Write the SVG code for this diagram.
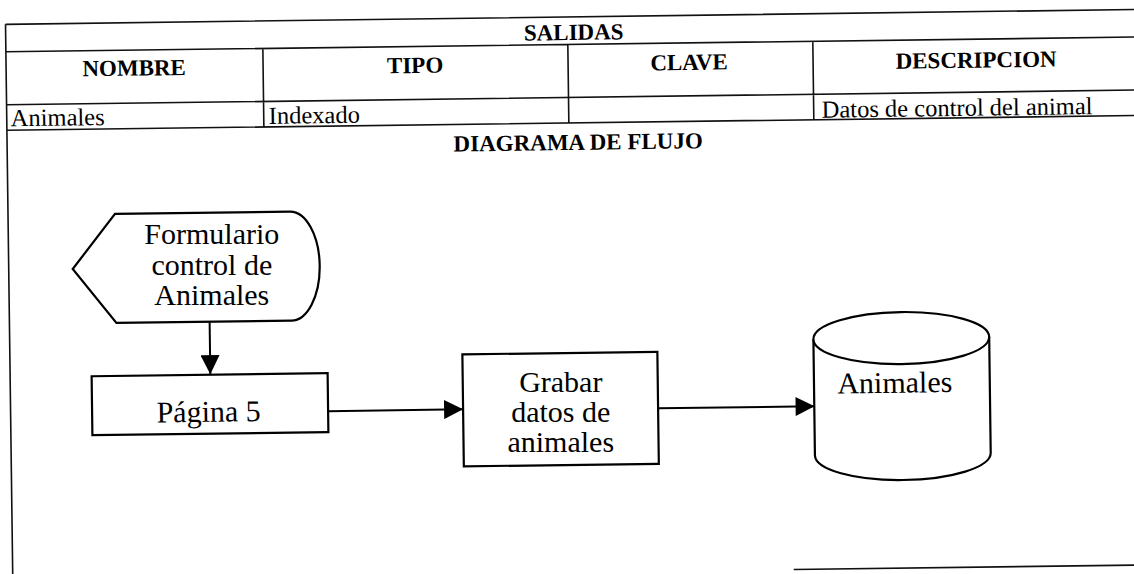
<svg xmlns="http://www.w3.org/2000/svg" width="1134" height="574" viewBox="0 0 1134 574">
<style>
.tl{stroke:#111;stroke-width:1.6;fill:none}
.sh{stroke:#000;stroke-width:2.2;fill:#fff}
.cn{stroke:#000;stroke-width:2;fill:none}
.hd{font-family:"Liberation Serif",serif;font-weight:bold;font-size:23px;fill:#000}
.td{font-family:"Liberation Serif",serif;font-size:24.5px;fill:#000}
.nt{font-family:"Liberation Serif",serif;font-size:30px;fill:#000}
</style>
<defs>
<marker id="ah" viewBox="0 0 20 20" refX="20" refY="10" markerWidth="20" markerHeight="19" markerUnits="userSpaceOnUse" orient="auto">
<path d="M0,0 L20,10 L0,20 z" fill="#000"/>
</marker>
</defs>
<rect width="1134" height="574" fill="#fff"/>
<g transform="rotate(-0.75 567 287)">
<g id="table">
<path class="tl" d="M9,17 H1150 M9,44.5 H1150 M9,97.5 H1150 M9,123 H1150 M9,17 V590 M266,44.5 V123 M571,44.5 V123 M816,44.5 V123 M790,572.5 H1150"/>
<text class="hd" x="577" y="40" text-anchor="middle" font-size="24">SALIDAS</text>
<text class="hd" x="137" y="70" text-anchor="middle">NOMBRE</text>
<text class="hd" x="418" y="71" text-anchor="middle">TIPO</text>
<text class="hd" x="692" y="71.5" text-anchor="middle">CLAVE</text>
<text class="hd" x="979" y="73" text-anchor="middle">DESCRIPCION</text>
<text class="td" x="13" y="119">Animales</text>
<text class="td" x="271" y="120">Indexado</text>
<text class="td" x="824" y="121">Datos de control del animal</text>
<text class="hd" x="580" y="150" text-anchor="middle" font-size="26.5">DIAGRAMA DE FLUJO</text>
</g>
<g id="connectors">
<path class="cn" d="M209.2,317.5 V369.5" marker-end="url(#ah)"/>
<path class="cn" d="M326.5,408 H461.5" marker-end="url(#ah)"/>
<path class="cn" d="M656.5,409.5 H813" marker-end="url(#ah)"/>
</g>
<g id="formulario">
<path class="sh" d="M73,262.5 L116,208 H291 A29 54.5 0 0 1 291,317 H116 Z"/>
<g transform="rotate(0.75 212 270)">
<text class="nt" x="212" y="239.5" text-anchor="middle" font-size="27.5">Formulario</text>
<text class="nt" x="212" y="270" text-anchor="middle" font-size="27.5">control de</text>
<text class="nt" x="212" y="300.5" text-anchor="middle" font-size="27.5">Animales</text>
</g>
</g>
<g id="pagina5">
<rect class="sh" x="90.5" y="370" width="236" height="59"/>
<text class="nt" x="207" y="417" text-anchor="middle">Página 5</text>
</g>
<g id="grabar">
<rect class="sh" x="461.5" y="353" width="195" height="112"/>
<g transform="rotate(0.75 559 422)">
<text class="nt" x="559" y="392" text-anchor="middle" font-size="26.5">Grabar</text>
<text class="nt" x="559" y="422" text-anchor="middle" font-size="26.5">datos de</text>
<text class="nt" x="559" y="452" text-anchor="middle" font-size="26.5">animales</text>
</g>
</g>
<g id="animales_db">
<path class="sh" d="M812.7,342.4 V458.4 A87.9 26 0 0 0 988.5,458.4 V342.4"/>
<ellipse class="sh" cx="900.6" cy="342.4" rx="87.9" ry="26"/>
<text class="nt" x="836" y="397" font-size="26.5">Animales</text>
</g>
</g>
</svg>
